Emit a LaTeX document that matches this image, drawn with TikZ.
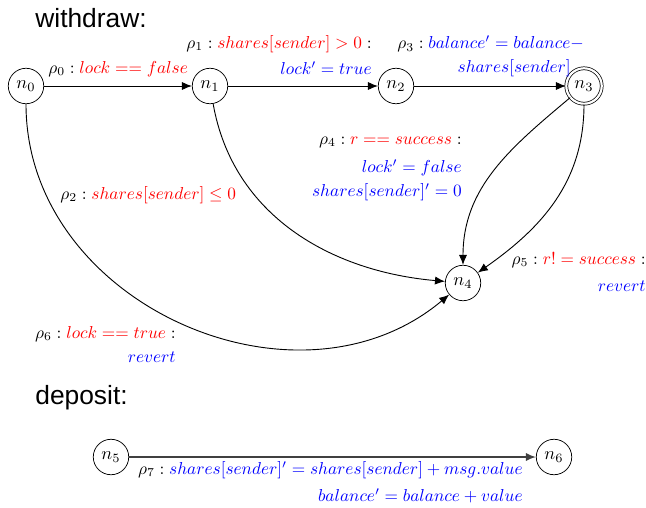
\documentclass[tikz,border=0pt]{standalone}
\usepackage{fontspec}
\newfontfamily\titlefont{Liberation Sans}
\usetikzlibrary{arrows.meta}
\begin{document}
\begin{tikzpicture}[x=0.55pt,y=-0.55pt,
  st/.style={draw,circle,minimum size=19.5pt,inner sep=0pt},
  acc/.style={st,double,double distance=1.2pt},
  tr/.style={-{Latex[length=5.5pt,width=4.5pt]},line width=0.5pt},
  lbl/.style={inner sep=0pt,scale=0.95,transform shape},
  ttl/.style={inner sep=0pt,font=\titlefont\fontsize{14.5}{16}\selectfont}]
\useasboundingbox (0,0) rectangle (646,507);
\node[ttl,anchor=west] (tw) at (35,18) {withdraw:};
\node[ttl,anchor=west] (td) at (35,398) {deposit:};
\node[st] (n0) at (26,86) {$n_0$};
\node[st] (n1) at (210,86) {$n_1$};
\node[st] (n2) at (396,86) {$n_2$};
\node[acc] (n3) at (584,86) {$n_3$};
\node[st] (n4) at (463,283) {$n_4$};
\node[st] (n5) at (111,457) {$n_5$};
\node[st] (n6) at (554,457) {$n_6$};
\draw[tr] (n0) -- (n1);
\draw[tr] (n1) -- (n2);
\draw[tr] (n2) -- (n3);
\draw[tr] (n0) to[out=-90,in=-140,looseness=1.1] (n4);
\draw[tr] (n1) to[out=-80,in=175] (n4);
\draw[tr] (n3) to[out=-140,in=90] (n4);
\draw[tr] (n3) to[out=-90,in=35] (n4);
\draw[tr,black!75,line width=0.8pt] (n5) -- (n6);
% labels
\node[lbl,anchor=west] (l0) at (48,69) {$\rho_0: \textcolor{red}{lock == false}$};
\node[lbl,anchor=east] (l1a) at (372,44) {$\rho_1: \textcolor{red}{shares[sender] > 0}:$};
\node[lbl,anchor=east] (l1b) at (372,68) {$\textcolor{blue}{lock' = true}$};
\node[lbl,anchor=west] (l3a) at (397,44) {$\rho_3: \textcolor{blue}{balance' = balance -}$};
\node[lbl,anchor=east] (l3b) at (571,68) {$\textcolor{blue}{shares[sender]}$};
\node[lbl,anchor=east] (l4a) at (462,142) {$\rho_4: \textcolor{red}{r == success}:$};
\node[lbl,anchor=east] (l4b) at (462,168) {$\textcolor{blue}{lock' = false}$};
\node[lbl,anchor=east] (l4c) at (462,192) {$\textcolor{blue}{shares[sender]' = 0}$};
\node[lbl,anchor=west] (l2) at (60,195) {$\rho_2: \textcolor{red}{shares[sender] \leq 0}$};
\node[lbl,anchor=east] (l5a) at (646,260) {$\rho_5: \textcolor{red}{r! = success}:$};
\node[lbl,anchor=east] (l5b) at (646,286) {$\textcolor{blue}{revert}$};
\node[lbl,anchor=east] (l6a) at (176,334) {$\rho_6: \textcolor{red}{lock == true}:$};
\node[lbl,anchor=east] (l6b) at (176,357) {$\textcolor{blue}{revert}$};
\node[lbl,anchor=east] (l7a) at (523,470) {$\rho_7: \textcolor{blue}{shares[sender]' = shares[sender] + msg.value}$};
\node[lbl,anchor=east] (l7b) at (523,496) {$\textcolor{blue}{balance' = balance + value}$};
\end{tikzpicture}
\end{document}
